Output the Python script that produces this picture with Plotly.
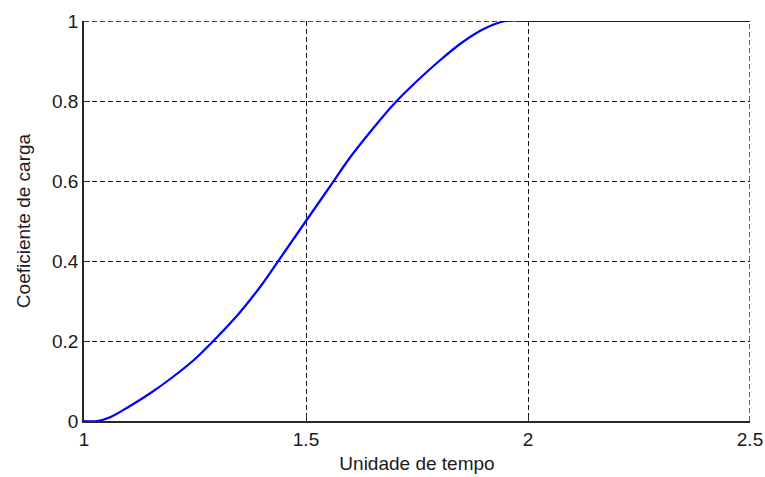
import plotly.graph_objects as go

t = [1.0, 1.03, 1.06, 1.1, 1.15, 1.2, 1.25, 1.3, 1.35, 1.4, 1.45, 1.5, 1.55,
     1.6, 1.65, 1.7, 1.75, 1.8, 1.85, 1.9, 1.95, 2.0, 2.5]
coef = [0.0, 0.0, 0.01, 0.035, 0.07, 0.11, 0.155, 0.21, 0.27, 0.34, 0.42, 0.5,
        0.58, 0.66, 0.73, 0.795, 0.85, 0.9, 0.945, 0.98, 1.0, 1.0, 1.0]
x_ticks = [1, 1.5, 2, 2.5]
x_labels = ["1", "1.5", "2", "2.5"]
y_ticks = [0, 0.2, 0.4, 0.6, 0.8, 1]
y_labels = ["0", "0.2", "0.4", "0.6", "0.8", "1"]

GRID_DASH = "5px,3px"
GRID_COLOR = "#111111"

fig = go.Figure()
fig.add_trace(go.Scatter(x=t, y=coef, mode="lines", line_shape="spline",
                         line=dict(color="#0000ff", width=2.2), showlegend=False))

font = dict(family="Liberation Sans, Arial, sans-serif", size=19, color="#1a1a1a")
axis_common = dict(showgrid=True, gridcolor=GRID_COLOR, gridwidth=1.1, griddash=GRID_DASH,
                   showline=True, linecolor="#262626", linewidth=1.6,
                   ticks="inside", ticklen=6, tickcolor="#262626", zeroline=False,
                   tickfont=font, mirror=False, automargin=False)
fig.update_xaxes(range=[1, 2.5], tickvals=x_ticks, ticktext=x_labels,
                 title=dict(text="Unidade de tempo", font=font, standoff=8), **axis_common)
fig.update_yaxes(range=[0, 1], tickvals=y_ticks, ticktext=y_labels,
                 title=dict(text="Coeficiente de carga", font=font, standoff=16), **axis_common)

# grid lines at the upper/right edges of the axes (Plotly omits them at range ends)
fig.add_shape(type="line", xref="x", yref="y", x0=x_ticks[-1], x1=x_ticks[-1],
              y0=y_ticks[0], y1=y_ticks[-1], layer="below",
              line=dict(color=GRID_COLOR, width=1.3, dash=GRID_DASH))
fig.add_shape(type="line", xref="x", yref="y", x0=x_ticks[0], x1=x_ticks[-1],
              y0=y_ticks[-1], y1=y_ticks[-1], layer="below",
              line=dict(color=GRID_COLOR, width=1.3, dash=GRID_DASH))

fig.update_layout(width=765, height=477, margin=dict(l=84, r=15, t=21, b=56),
                  plot_bgcolor="white", paper_bgcolor="white", font=font)
fig.write_html("out.html")
